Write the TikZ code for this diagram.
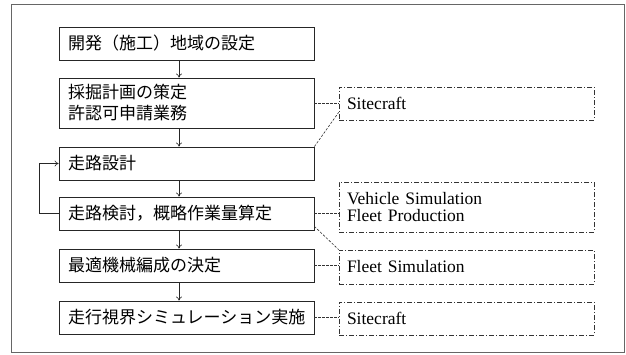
\documentclass[tikz,border=0pt]{standalone}
\usepackage{fontspec}
\setmainfont{Liberation Serif}
\newfontfamily\jp{Noto Sans CJK JP}
\usetikzlibrary{calc,arrows.meta}
\tikzset{
  mainbox/.style={draw=black!85, line width=0.8pt, minimum width=255pt, text width=237pt,
    inner xsep=9pt, inner ysep=0pt, align=left, font=\jp\fontsize{17}{21}\selectfont},
  toolbox/.style={draw=black!80, line width=0.7pt, dash pattern=on 5pt off 2pt on 1pt off 2pt,
    minimum width=255pt, text width=239pt, inner xsep=8pt, inner ysep=0pt, align=left,
    font=\fontsize{17.5}{17}\selectfont},
  flow/.style={draw=black!85, line width=0.6pt, -{To[length=4pt,width=6pt]}},
  link/.style={draw=black!80, line width=0.6pt, dash pattern=on 2.5pt off 1.5pt},
}
\begin{document}
\begin{tikzpicture}[x=1pt,y=-1pt]
\useasboundingbox (0,0) rectangle (626,355);
\draw[black!60, line width=0.9pt] (11,4) rectangle (624,352);
% main boxes
\node[mainbox, minimum height=33pt] (b1) at (186.5,43.5) {開発（施工）地域の設定};
\node[mainbox, minimum height=50pt] (b2) at (186.5,103) {採掘計画の策定\\許認可申請業務};
\node[mainbox, minimum height=33pt] (b3) at (186.5,163.5) {走路設計};
\node[mainbox, minimum height=33pt] (b4) at (186.5,213.5) {走路検討，概略作業量算定};
\node[mainbox, minimum height=33pt] (b5) at (186.5,265.5) {最適機械編成の決定};
\node[mainbox, minimum height=33pt] (b6) at (186.5,317.5) {走行視界シミュレーション実施};
% tool boxes
\node[toolbox, minimum height=33pt] (t1) at (466.5,103.5) {Sitecraft};
\node[toolbox, minimum height=50pt] (t2) at (466.5,207) {Vehicle Simulation\\Fleet Production};
\node[toolbox, minimum height=34pt] (t3) at (466.5,267) {Fleet Simulation};
\node[toolbox, minimum height=33pt] (t4) at (466.5,318.5) {Sitecraft};
% flow arrows
\coordinate (ax) at (179,0);
\draw[flow] (b1.south -| ax) -- (b2.north -| ax);
\draw[flow] (b2.south -| ax) -- (b3.north -| ax);
\draw[flow] (b3.south -| ax) -- (b4.north -| ax);
\draw[flow] (b4.south -| ax) -- (b5.north -| ax);
\draw[flow] (b5.south -| ax) -- (b6.north -| ax);
\draw[flow] (b4.west) -- ++(-19,0) |- (b3.west);
% links
\coordinate (t1in) at ($(t1.south west)+(0,-8)$);
\draw[link] (b2.east) -- (t1.west |- b2.east);
\draw[link] (b3.north east) -- (t1in);
\draw[link] (b4.east) -- (t2.west |- b4.east);
\draw[link] ($(b4.south east)+(0,-4)$) -- (t3.north west);
\draw[link] (b5.east) -- (t3.west |- b5.east);
\draw[link] (b6.east) -- (t4.west |- b6.east);
\end{tikzpicture}
\end{document}
